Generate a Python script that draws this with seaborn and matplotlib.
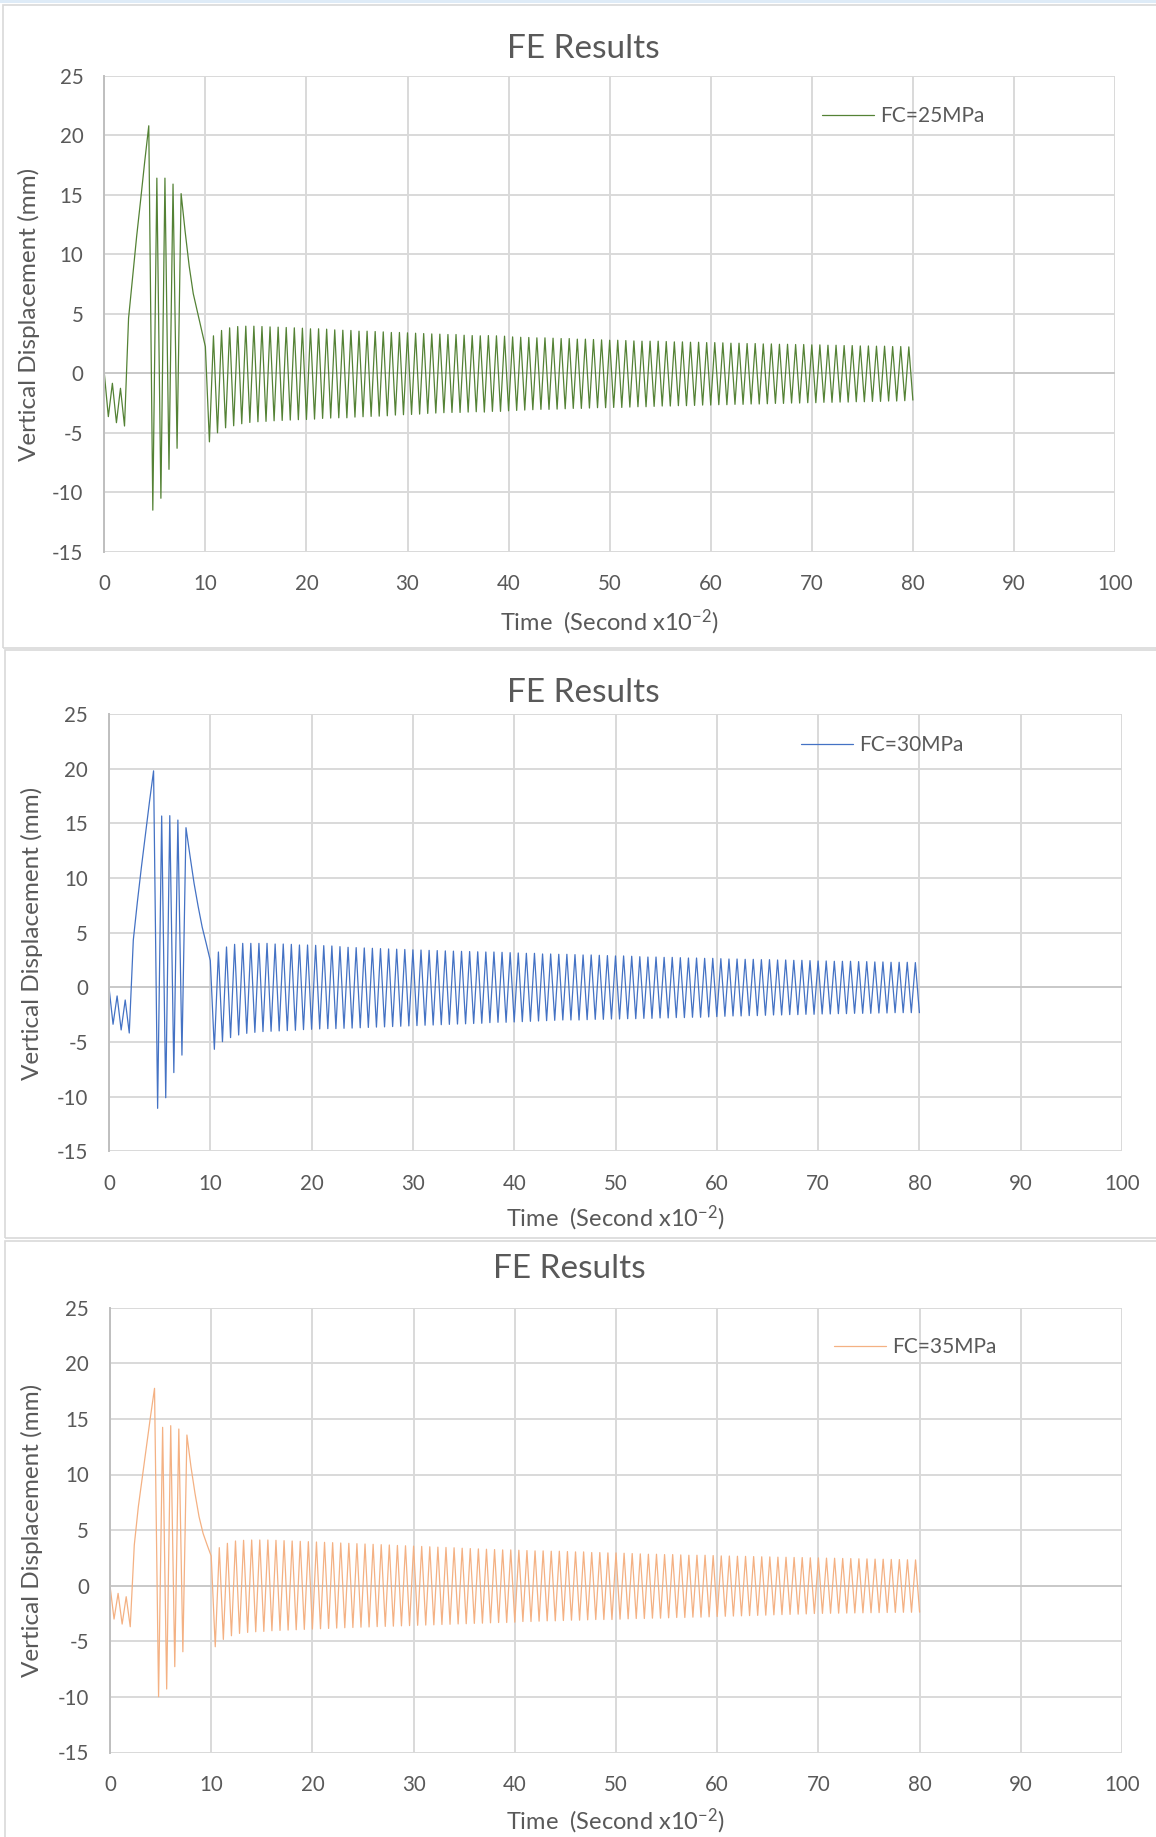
import numpy as np
import pandas as pd
import matplotlib
matplotlib.use("Agg")
import matplotlib.pyplot as plt
from matplotlib.patches import Rectangle
import seaborn as sns

# ---------------------------------------------------------------------------
# Vertical displacement (mm) sampled every 0.4 x10^-2 s.
# Each record: the first 26 samples (t = 0 .. 10.0) are listed directly; after
# that the response alternates trough / peak, starting with a trough at 10.4
# and ending with a trough at 80.0.
# ---------------------------------------------------------------------------
time_step = 0.4

fc25_start = [0.0, -3.64, -0.84, -4.15, -1.26, -4.43, 4.62, 8.1, 11.5, 14.6, 17.8, 20.8,
              -11.5, 16.4, -10.5, 16.4, -8.07, 15.9, -6.3, 15.1, 11.9, 9.0, 6.7, 5.2, 3.7, 2.24]
fc25_peaks = [3.15, 3.60, 3.82, 3.93, 3.96, 3.96, 3.93, 3.90, 3.88, 3.85,
              3.82, 3.79, 3.74, 3.74, 3.71, 3.65, 3.62, 3.60, 3.54, 3.54,
              3.51, 3.48, 3.43, 3.43, 3.40, 3.37, 3.34, 3.31, 3.29, 3.26,
              3.26, 3.20, 3.17,
              3.15, 3.17, 3.15, 3.12, 3.06, 3.03, 3.01, 2.98, 2.98, 2.95,
              2.92, 2.92, 2.87, 2.87, 2.84, 2.81, 2.78, 2.78, 2.75, 2.72,
              2.70, 2.70, 2.70, 2.67, 2.64, 2.64, 2.61, 2.61, 2.58, 2.58,
              2.56, 2.53, 2.53, 2.50, 2.50, 2.47, 2.47, 2.44, 2.44, 2.42,
              2.42, 2.39, 2.39, 2.36, 2.36, 2.33, 2.33, 2.30, 2.30, 2.28,
              2.28, 2.25, 2.25, 2.22]
fc25_troughs = [-5.76, -5.00, -4.58, -4.41, -4.24, -4.13, -4.07, -4.04, -3.99, -3.96,
                -3.93, -3.90, -3.88, -3.85, -3.79, -3.76, -3.74, -3.74, -3.68, -3.65,
                -3.62, -3.60, -3.57, -3.51, -3.48, -3.46, -3.43, -3.37, -3.34, -3.31,
                -3.29, -3.29, -3.26, -3.23,
                -3.26, -3.20, -3.20, -3.15, -3.12, -3.09, -3.06, -3.03, -3.03, -3.01,
                -2.98, -2.95, -2.95, -2.92, -2.89, -2.89, -2.87, -2.87, -2.84, -2.81,
                -2.81, -2.78, -2.75, -2.75, -2.72, -2.72, -2.70, -2.67, -2.67, -2.64,
                -2.64, -2.61, -2.61, -2.58, -2.58, -2.56, -2.53, -2.53, -2.50, -2.50,
                -2.47, -2.47, -2.44, -2.44, -2.42, -2.42, -2.39, -2.39, -2.36, -2.36,
                -2.33, -2.33, -2.30, -2.25]

fc30_start = [0.0, -3.38, -0.79, -3.90, -1.16, -4.18, 4.33, 7.8, 11.0, 14.0, 17.0, 19.8,
              -11.07, 15.67, -10.1, 15.7, -7.8, 15.3, -6.2, 14.6, 12.0, 9.5, 7.4, 5.5, 4.0, 2.44]
fc30_peaks = [3.23, 3.69, 3.93, 4.02, 4.02, 4.02, 4.02, 3.96, 3.96, 3.93,
              3.87, 3.87, 3.84, 3.81, 3.78, 3.72, 3.66,
              3.63, 3.60, 3.57, 3.54, 3.51, 3.49, 3.46, 3.43, 3.41, 3.38,
              3.36, 3.33, 3.31, 3.29, 3.27, 3.25,
              3.23, 3.23, 3.20, 3.17, 3.14, 3.11, 3.11, 3.05, 3.05, 3.02,
              3.02, 2.99, 2.96, 2.96, 2.93, 2.90, 2.87, 2.87, 2.84, 2.80,
              2.77, 2.77, 2.74, 2.74, 2.71, 2.68, 2.68, 2.65, 2.65, 2.62,
              2.59, 2.59, 2.56, 2.56, 2.53, 2.53, 2.50, 2.50, 2.47, 2.47,
              2.44, 2.41, 2.41, 2.38, 2.38, 2.38, 2.35, 2.35, 2.32, 2.32,
              2.29, 2.29, 2.29, 2.26]
fc30_troughs = [-5.67, -4.97, -4.60, -4.36, -4.21, -4.12, -4.05, -4.02, -3.99, -3.96,
                -3.93, -3.87, -3.84, -3.81, -3.78, -3.78, -3.75,
                -3.73, -3.70, -3.67, -3.64, -3.62, -3.59, -3.56, -3.53, -3.50, -3.47,
                -3.45, -3.42, -3.39, -3.36, -3.34, -3.31,
                -3.29, -3.23, -3.20, -3.20, -3.17, -3.14, -3.11, -3.08, -3.05, -3.02,
                -2.99, -2.99, -2.99, -2.96, -2.93, -2.93, -2.90, -2.90, -2.87, -2.87,
                -2.84, -2.84, -2.80, -2.80, -2.77, -2.77, -2.74, -2.74, -2.71, -2.68,
                -2.65, -2.62, -2.62, -2.59, -2.59, -2.56, -2.53, -2.53, -2.50, -2.50,
                -2.47, -2.47, -2.44, -2.44, -2.41, -2.41, -2.38, -2.38, -2.38, -2.35,
                -2.35, -2.32, -2.32, -2.32, -2.32]

fc35_start = [0.0, -3.00, -0.69, -3.45, -0.99, -3.69, 3.66, 7.1, 9.8, 12.5, 15.2, 17.75,
              -9.98, 14.24, -9.29, 14.39, -7.28, 14.09, -5.94, 13.55, 10.7, 8.3, 6.2, 4.7, 3.66, 2.67]
fc35_peaks = [3.42, 3.81, 4.02, 4.08, 4.11, 4.11, 4.11, 4.08, 4.05, 4.02,
              3.99, 3.96, 3.93, 3.90, 3.87, 3.84,
              3.81, 3.78, 3.75, 3.72, 3.69, 3.66, 3.62, 3.59, 3.56, 3.53,
              3.50, 3.47, 3.44, 3.41, 3.37, 3.34, 3.31,
              3.28, 3.25, 3.22, 3.22, 3.19, 3.16, 3.13, 3.13, 3.10, 3.10,
              3.07, 3.04, 3.04, 2.98, 2.98, 2.95, 2.95, 2.92, 2.89, 2.86,
              2.83, 2.83, 2.80, 2.80, 2.77, 2.74, 2.74, 2.74, 2.71, 2.68,
              2.67, 2.65, 2.64, 2.62, 2.60, 2.59, 2.57, 2.56, 2.54, 2.53,
              2.51, 2.50, 2.48, 2.47, 2.45, 2.44, 2.42, 2.41, 2.39, 2.38,
              2.36, 2.35, 2.33, 2.32]
fc35_troughs = [-5.49, -4.83, -4.50, -4.29, -4.20, -4.14, -4.11, -4.05, -4.02, -3.99,
                -3.96, -3.93, -3.90, -3.87, -3.84, -3.81, -3.78,
                -3.76, -3.73, -3.71, -3.68, -3.66, -3.64, -3.61, -3.59, -3.56, -3.54,
                -3.52, -3.49, -3.47, -3.44, -3.42, -3.39,
                -3.37, -3.34, -3.31, -3.31, -3.28, -3.22, -3.22, -3.19, -3.16, -3.16,
                -3.13, -3.10, -3.10, -3.07, -3.04, -3.04, -3.04, -3.01, -2.98, -2.95,
                -2.95, -2.92, -2.92, -2.89, -2.86, -2.86, -2.83, -2.83, -2.80, -2.77,
                -2.75, -2.73, -2.71, -2.69, -2.67, -2.65, -2.62, -2.60, -2.58, -2.56,
                -2.54, -2.50, -2.49, -2.48, -2.47, -2.46, -2.45, -2.44, -2.43, -2.42,
                -2.41, -2.40, -2.39, -2.39, -2.38]

legend_labels = ["FC=25MPa", "FC=30MPa", "FC=35MPa"]
line_colors = ["#548235", "#4472C4", "#F4B183"]
x_ticks = [0, 10, 20, 30, 40, 50, 60, 70, 80, 90, 100]
y_ticks = [-15, -10, -5, 0, 5, 10, 15, 20, 25]


def assemble(start, troughs, peaks):
    """Join the opening samples with the alternating trough/peak tail."""
    tail = []
    for trough, peak in zip(troughs, peaks):
        tail += [trough, peak]
    tail.append(troughs[-1])
    values = list(start) + tail
    times = np.round(np.arange(len(values)) * time_step, 1)
    return pd.DataFrame({"time": times, "disp": values})


records = [assemble(fc25_start, fc25_troughs, fc25_peaks),
           assemble(fc30_start, fc30_troughs, fc30_peaks),
           assemble(fc35_start, fc35_troughs, fc35_peaks)]

# ---------------------------------------------------------------------------
sns.set_style("white")
plt.rcParams["font.family"] = ["Lato", "DejaVu Sans"]
plt.rcParams["axes.unicode_minus"] = False
plt.rcParams["mathtext.fontset"] = "custom"
plt.rcParams["mathtext.rm"] = "Lato"

W, H = 1156, 1837
fig = plt.figure(figsize=(W / 100, H / 100), dpi=100)
fig.patch.set_facecolor("white")

TXT = "#595959"
GRID = "#d9d9d9"


def fx(px):
    return px / W


def fy(py):
    return 1 - py / H


# chart panels: (panel box, axes box, title pos, xlabel pos, ylabel pos, legend pos)
panels = [
    dict(box=(3, 5, 1170, 648), ax=(104.3, 75.8, 1115, 551.8), title=(583, 49),
         xlabel=(609, 622), ylabel=(29, 314), legend=(822, 116)),
    dict(box=(5, 650, 1170, 1238), ax=(109, 714, 1122, 1151.3), title=(583, 693),
         xlabel=(615, 1218), ylabel=(32, 933), legend=(801, 745)),
    dict(box=(5, 1241, 1170, 1845), ax=(110, 1307.7, 1122, 1752.5), title=(569, 1269),
         xlabel=(615, 1821), ylabel=(32, 1530), legend=(834, 1347)),
]

# thin light-blue strip along the top edge
fig.add_artist(Rectangle((0, fy(3)), 1, 3 / H, transform=fig.transFigure,
                         facecolor="#deebf7", edgecolor="none"))

for df, p, lab, col in zip(records, panels, legend_labels, line_colors):
    bx0, by0, bx1, by1 = p["box"]
    fig.add_artist(Rectangle((fx(bx0), fy(by1)), fx(bx1 - bx0), (by1 - by0) / H,
                             transform=fig.transFigure, fill=False,
                             edgecolor="#d9d9d9", linewidth=1.2))

    x0, y0, x1, y1 = p["ax"]
    ax = fig.add_axes([fx(x0), fy(y1), fx(x1 - x0), (y1 - y0) / H])
    ax.set_facecolor("none")

    sns.lineplot(data=df, x="time", y="disp", ax=ax, color=col, linewidth=0.9,
                 label=lab, estimator=None, sort=False)

    ax.set_xlim(0, 100)
    ax.set_ylim(-15, 25)
    ax.set_xticks(x_ticks)
    ax.set_yticks(y_ticks)
    ax.grid(True, color=GRID, linewidth=1.4)
    ax.set_axisbelow(True)
    for s in ["top", "right", "bottom"]:
        ax.spines[s].set_visible(False)
    ax.spines["left"].set_color("#bfbfbf")
    ax.spines["left"].set_linewidth(1.4)
    ax.axhline(0, color="#c9c9c9", linewidth=1.4, zorder=1)
    ax.tick_params(axis="both", length=0, labelsize=14.8, colors=TXT)
    ax.tick_params(axis="x", pad=16)
    ax.tick_params(axis="y", pad=15)
    ax.set_xlabel("")
    ax.set_ylabel("")

    lx, ly = p["legend"]
    ax.legend(loc="center left", bbox_to_anchor=(fx(lx), fy(ly)),
              bbox_transform=fig.transFigure, frameon=False, fontsize=15,
              borderpad=0, borderaxespad=0, handlelength=2.5, handletextpad=0.3,
              labelcolor=TXT)

    tx, ty = p["title"]
    fig.text(fx(tx), fy(ty), "FE Results", ha="center", va="center",
             fontsize=24, color=TXT)
    xx, xy = p["xlabel"]
    fig.text(fx(xx), fy(xy), "Time  (Second x10$\\mathregular{^{-2}}$)",
             ha="center", va="center", fontsize=17, color=TXT)
    yx, yy = p["ylabel"]
    fig.text(fx(yx), fy(yy), "Vertical Displacement (mm)", ha="center", va="center",
             rotation=90, fontsize=17.5, color=TXT)

fig.savefig("out.png", dpi=100, facecolor="white")
